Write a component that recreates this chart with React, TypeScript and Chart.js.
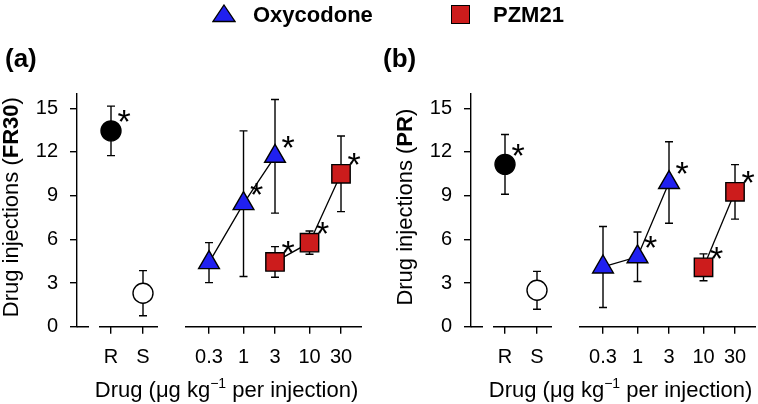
import React, { useEffect, useRef } from 'react';
import { Chart, registerables } from 'chart.js';

Chart.register(...registerables);

// ---------- data ----------
const rsLabels = ['R', 'S'];
const doseTicks = [0.3, 1, 3, 10, 30];
const yTicks = [0, 3, 6, 9, 12, 15];

// Panel (a): FR30
const aRatMean = [13.45, 2.3];
const aRatSem = [1.7, 1.55];
const aRatSig = [true, false];
const aOxyDose = [0.3, 1, 3];
const aOxyMean = [4.4, 8.45, 11.7];
const aOxySem = [1.37, 5.0, 3.9];
const aOxySig = [false, true, true];
const aPzmDose = [3, 10, 30];
const aPzmMean = [4.45, 5.77, 10.5];
const aPzmSem = [1.05, 0.8, 2.6];
const aPzmSig = [true, true, true];

// Panel (b): PR
const bRatMean = [11.15, 2.5];
const bRatSem = [2.05, 1.3];
const bRatSig = [true, false];
const bOxyDose = [0.3, 1, 3];
const bOxyMean = [4.1, 4.8, 9.9];
const bOxySem = [2.78, 1.7, 2.8];
const bOxySig = [false, true, true];
const bPzmDose = [10, 30];
const bPzmMean = [4.08, 9.26];
const bPzmSem = [0.92, 1.87];
const bPzmSig = [true, true];

// ---------- style ----------
const FONT = '"Liberation Sans", Arial, Helvetica, sans-serif';
const BLUE = '#2020f0';
const RED = '#cc1c1c';
const LW = 1.4;

const errorBarPlugin = {
  id: 'errorBars',
  beforeDatasetsDraw(chart: any) {
    const ctx = chart.ctx;
    const ys = chart.scales.y;
    chart.data.datasets.forEach((ds: any, i: number) => {
      const meta = chart.getDatasetMeta(i);
      ctx.save();
      ctx.strokeStyle = '#000';
      ctx.lineWidth = LW;
      meta.data.forEach((pt: any, j: number) => {
        const m = ds.data[j].y;
        const e = ds.sem[j];
        const x = pt.x;
        const yt = ys.getPixelForValue(m + e);
        const yb = ys.getPixelForValue(m - e);
        ctx.beginPath();
        ctx.moveTo(x, yt);
        ctx.lineTo(x, yb);
        ctx.moveTo(x - 4, yt);
        ctx.lineTo(x + 4, yt);
        ctx.moveTo(x - 4, yb);
        ctx.lineTo(x + 4, yb);
        ctx.stroke();
      });
      ctx.restore();
    });
  },
};

const asteriskPlugin = {
  id: 'asterisks',
  afterDatasetsDraw(chart: any) {
    const ctx = chart.ctx;
    const size = 34;
    chart.data.datasets.forEach((ds: any, i: number) => {
      const meta = chart.getDatasetMeta(i);
      ctx.save();
      ctx.fillStyle = '#000';
      ctx.font = `${size}px ${FONT}`;
      ctx.textAlign = 'center';
      ctx.textBaseline = 'alphabetic';
      meta.data.forEach((pt: any, j: number) => {
        if (!ds.sig[j]) return;
        const cx = pt.x + 13;
        const cy = pt.y - 17;
        ctx.fillText('*', cx, cy + 0.575 * size);
      });
      ctx.restore();
    });
  },
};

const baselinePlugin = {
  id: 'baseline',
  afterDraw(chart: any) {
    const { ctx, chartArea: ca } = chart;
    const xr = chart.scales.xRS;
    const xd = chart.scales.xDose;
    const y = ca.bottom;
    ctx.save();
    ctx.strokeStyle = '#000';
    ctx.lineWidth = LW;
    ctx.beginPath();
    ctx.moveTo(ca.left, y);
    ctx.lineTo(ca.left + 12, y);
    ctx.moveTo(xr.getPixelForValue(0) - 12, y);
    ctx.lineTo(xr.getPixelForValue(rsLabels.length - 1) + 15, y);
    ctx.moveTo(xd.left + 13, y);
    ctx.lineTo(xd.right, y);
    ctx.stroke();
    ctx.restore();
  },
};

const titlesPlugin = {
  id: 'titles',
  afterDraw(chart: any, _args: any, opts: any) {
    const { ctx, chartArea: ca } = chart;
    const big = `22px ${FONT}`;
    const bigB = `bold 22px ${FONT}`;
    const small = `14px ${FONT}`;
    ctx.save();
    ctx.fillStyle = '#000';
    ctx.textBaseline = 'alphabetic';
    ctx.textAlign = 'left';
    // x title
    const xParts = [
      { t: 'Drug (\u03bcg kg', f: big, dy: 0 },
      { t: '\u22121', f: small, dy: -9 },
      { t: ' per injection)', f: big, dy: 0 },
    ];
    let total = 0;
    xParts.forEach((p) => {
      ctx.font = p.f;
      total += ctx.measureText(p.t).width;
    });
    let x = (ca.left + ca.right) / 2 + 7 - total / 2;
    const by = ca.bottom + 70;
    xParts.forEach((p) => {
      ctx.font = p.f;
      ctx.fillText(p.t, x, by + p.dy);
      x += ctx.measureText(p.t).width;
    });
    // y title
    const yParts = [
      { t: 'Drug injections (', f: big },
      { t: opts.bold, f: bigB },
      { t: ')', f: big },
    ];
    total = 0;
    yParts.forEach((p) => {
      ctx.font = p.f;
      total += ctx.measureText(p.t).width;
    });
    ctx.translate(ca.left - 59.5, (ca.top + ca.bottom) / 2 - 3);
    ctx.rotate(-Math.PI / 2);
    x = -total / 2;
    yParts.forEach((p) => {
      ctx.font = p.f;
      ctx.fillText(p.t, x, 0);
      x += ctx.measureText(p.t).width;
    });
    ctx.restore();
  },
};

type PanelData = {
  ratMean: number[];
  ratSem: number[];
  ratSig: boolean[];
  oxyDose: number[];
  oxyMean: number[];
  oxySem: number[];
  oxySig: boolean[];
  pzmDose: number[];
  pzmMean: number[];
  pzmSem: number[];
  pzmSig: boolean[];
  bold: string;
};

function tickFont() {
  return { size: 20, family: FONT };
}

function zeroPad(s: any) {
  s.paddingLeft = 0;
  s.paddingRight = 0;
  s.paddingTop = 0;
  s.paddingBottom = 0;
}

function buildConfig(p: PanelData): any {
  const gridCfg = {
    drawOnChartArea: false,
    drawTicks: true,
    tickLength: 7,
    color: '#000',
    lineWidth: LW,
  };
  return {
    type: 'line',
    data: {
      datasets: [
        {
          label: 'Rats',
          xAxisID: 'xRS',
          yAxisID: 'y',
          data: p.ratMean.map((m, i) => ({ x: i, y: m })),
          sem: p.ratSem,
          sig: p.ratSig,
          showLine: false,
          pointStyle: 'circle',
          pointRadius: 10,
          pointBackgroundColor: ['#000000', '#ffffff'],
          pointBorderColor: '#000',
          pointBorderWidth: LW,
          clip: false,
        },
        {
          label: 'Oxycodone',
          xAxisID: 'xDose',
          yAxisID: 'y',
          data: p.oxyDose.map((d, i) => ({ x: d, y: p.oxyMean[i] })),
          sem: p.oxySem,
          sig: p.oxySig,
          showLine: true,
          borderColor: '#000',
          borderWidth: 1.3,
          tension: 0,
          pointStyle: 'triangle',
          pointRadius: 12,
          pointBackgroundColor: BLUE,
          pointBorderColor: '#000',
          pointBorderWidth: LW,
          clip: false,
        },
        {
          label: 'PZM21',
          xAxisID: 'xDose',
          yAxisID: 'y',
          data: p.pzmDose.map((d, i) => ({ x: d, y: p.pzmMean[i] })),
          sem: p.pzmSem,
          sig: p.pzmSig,
          showLine: true,
          borderColor: '#000',
          borderWidth: 1.3,
          tension: 0,
          pointStyle: 'rect',
          pointRadius: 13,
          pointBackgroundColor: RED,
          pointBorderColor: '#000',
          pointBorderWidth: LW,
          clip: false,
        },
      ],
    },
    options: {
      responsive: false,
      animation: false,
      events: [],
      layout: { autoPadding: false, padding: { left: 0, right: 2, top: 93.7, bottom: 0 } },
      plugins: {
        legend: { display: false },
        tooltip: { enabled: false },
        titles: { bold: p.bold },
      },
      scales: {
        y: {
          type: 'linear',
          position: 'left',
          min: 0,
          max: 16,
          afterFit: (s: any) => {
            s.width = 77;
            zeroPad(s);
          },
          afterBuildTicks: (s: any) => {
            s.ticks = yTicks.map((v) => ({ value: v }));
          },
          border: { display: true, color: '#000', width: LW },
          grid: gridCfg,
          ticks: { color: '#000', padding: 12, font: tickFont() },
        },
        xRS: {
          type: 'linear',
          position: 'bottom',
          stack: 'x',
          stackWeight: 1,
          min: -1.0625,
          max: 1.90625,
          afterFit: (s: any) => {
            s.height = 77.3;
            zeroPad(s);
          },
          afterBuildTicks: (s: any) => {
            s.ticks = rsLabels.map((_, i) => ({ value: i }));
          },
          border: { display: false },
          grid: gridCfg,
          ticks: {
            color: '#000',
            padding: 12,
            font: tickFont(),
            autoSkip: false,
            maxRotation: 0,
            callback: (v: number) => rsLabels[v] ?? '',
          },
        },
        xDose: {
          type: 'logarithmic',
          position: 'bottom',
          stack: 'x',
          stackWeight: 2,
          min: 0.0825,
          max: 62.4,
          afterFit: (s: any) => {
            s.height = 77.3;
            zeroPad(s);
          },
          afterBuildTicks: (s: any) => {
            s.ticks = doseTicks.map((v) => ({ value: v }));
          },
          border: { display: false },
          grid: gridCfg,
          ticks: {
            color: '#000',
            padding: 12,
            font: tickFont(),
            autoSkip: false,
            maxRotation: 0,
            callback: (v: number) => String(v),
          },
        },
      },
    },
    plugins: [errorBarPlugin, asteriskPlugin, baselinePlugin, titlesPlugin],
  };
}

function Panel({ data, left }: { data: PanelData; left: number }) {
  const ref = useRef<HTMLCanvasElement>(null);
  useEffect(() => {
    if (!ref.current) return;
    const chart = new Chart(ref.current, buildConfig(data));
    return () => chart.destroy();
  }, [data]);
  return (
    <canvas
      ref={ref}
      width={364}
      height={404}
      style={{ position: 'absolute', left, top: 0, width: 364, height: 404 }}
    />
  );
}

const panelA: PanelData = {
  ratMean: aRatMean,
  ratSem: aRatSem,
  ratSig: aRatSig,
  oxyDose: aOxyDose,
  oxyMean: aOxyMean,
  oxySem: aOxySem,
  oxySig: aOxySig,
  pzmDose: aPzmDose,
  pzmMean: aPzmMean,
  pzmSem: aPzmSem,
  pzmSig: aPzmSig,
  bold: 'FR30',
};

const panelB: PanelData = {
  ratMean: bRatMean,
  ratSem: bRatSem,
  ratSig: bRatSig,
  oxyDose: bOxyDose,
  oxyMean: bOxyMean,
  oxySem: bOxySem,
  oxySig: bOxySig,
  pzmDose: bPzmDose,
  pzmMean: bPzmMean,
  pzmSem: bPzmSem,
  pzmSig: bPzmSig,
  bold: 'PR',
};

const textBase: React.CSSProperties = {
  position: 'absolute',
  fontFamily: FONT,
  color: '#000',
  whiteSpace: 'nowrap',
  margin: 0,
};

export default function App() {
  return (
    <div
      style={{
        position: 'absolute',
        left: 0,
        top: 0,
        width: 758,
        height: 404,
        background: '#fff',
        overflow: 'hidden',
      }}
    >
      <Panel data={panelA} left={0} />
      <Panel data={panelB} left={394} />
      <div style={{ ...textBase, left: 5, top: 44.5, fontSize: 26, lineHeight: '26px', fontWeight: 'bold' }}>(a)</div>
      <div style={{ ...textBase, left: 383, top: 44.5, fontSize: 26, lineHeight: '26px', fontWeight: 'bold' }}>(b)</div>
      <svg
        width={24}
        height={19}
        style={{ position: 'absolute', left: 212, top: 4 }}
      >
        <polygon points="12,1 23,17.5 1,17.5" fill={BLUE} stroke="#000" strokeWidth={1.3} />
      </svg>
      <div style={{ ...textBase, left: 253, top: 4.4, fontSize: 22, lineHeight: '22px', fontWeight: 'bold' }}>Oxycodone</div>
      <div
        style={{
          position: 'absolute',
          left: 451,
          top: 5,
          width: 19,
          height: 19,
          boxSizing: 'border-box',
          background: RED,
          border: '1.3px solid #000',
        }}
      />
      <div style={{ ...textBase, left: 493, top: 4.4, fontSize: 22, lineHeight: '22px', fontWeight: 'bold' }}>PZM21</div>
    </div>
  );
}
